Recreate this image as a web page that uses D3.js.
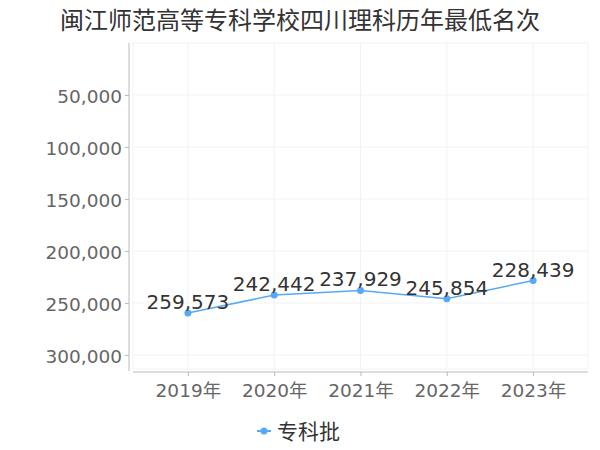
<!DOCTYPE html>
<html>
<head>
<meta charset="utf-8">
<script src="https://cdn.jsdelivr.net/npm/d3@7"></script>
<style>
  body { margin: 0; background: #fff; }
  text { font-family: "DejaVu Sans", "Noto Sans CJK SC", sans-serif; }
</style>
</head>
<body>
<svg width="600" height="450"></svg>
<script>
const title = "闽江师范高等专科学校四川理科历年最低名次";
const years = ["2019年", "2020年", "2021年", "2022年", "2023年"];
const ranks = [259573, 242442, 237929, 245854, 228439];
const seriesName = "专科批";
const yTicks = [50000, 100000, 150000, 200000, 250000, 300000];

const color = "#58a9f5";
const svg = d3.select("svg");

const plotLeft = 133, plotRight = 588, plotTop = 43, plotBottom = 369;

const x = d3.scalePoint()
  .domain(years)
  .range([plotLeft, plotRight])
  .padding(0.636);

const y = d3.scaleLinear()
  .domain([0, 313500])
  .range([plotTop, plotBottom]);

// title
svg.append("text")
  .attr("x", 300)
  .attr("y", 29)
  .attr("text-anchor", "middle")
  .attr("font-size", 24)
  .attr("fill", "#333")
  .style("font-family", "'Noto Sans CJK SC', sans-serif")
  .text(title);

// grid
const grid = svg.append("g");
grid.append("rect")
  .attr("x", plotLeft).attr("y", plotTop)
  .attr("width", plotRight - plotLeft).attr("height", plotBottom - plotTop)
  .attr("fill", "none").attr("stroke", "#f2f2f2");
grid.selectAll(".hg")
  .data(yTicks)
  .enter().append("line")
  .attr("x1", plotLeft).attr("x2", plotRight)
  .attr("y1", d => y(d)).attr("y2", d => y(d))
  .attr("stroke", "#f2f2f2");
grid.selectAll(".vg")
  .data(years)
  .enter().append("line")
  .attr("x1", d => x(d)).attr("x2", d => x(d))
  .attr("y1", plotTop).attr("y2", plotBottom)
  .attr("stroke", "#f2f2f2");

// y axis
const yAxis = svg.append("g")
  .attr("transform", "translate(129,0)")
  .call(d3.axisLeft(y).tickValues(yTicks).tickFormat(d3.format(",")).tickSize(4).tickSizeOuter(0));
yAxis.select(".domain").attr("stroke", "#bbb").attr("d", `M0,${plotTop}V${plotBottom + 2}`);
yAxis.selectAll(".tick line").attr("stroke", "#bbb");
yAxis.selectAll(".tick text")
  .attr("font-size", 18.5)
  .attr("fill", "#666")
  .attr("x", -7)
  .attr("dy", "0.4em");

// x axis
const xAxis = svg.append("g")
  .attr("transform", "translate(0,372)")
  .call(d3.axisBottom(x).tickSize(4).tickSizeOuter(0));
xAxis.select(".domain").attr("stroke", "#bbb").attr("d", `M${plotLeft},0H${plotRight}`);
xAxis.selectAll(".tick line").attr("stroke", "#bbb");
xAxis.selectAll(".tick text")
  .attr("font-size", 18.5)
  .attr("fill", "#666")
  .attr("y", 12)
  .attr("dy", "0.71em");

// line
const data = years.map((d, i) => ({ year: d, value: ranks[i] }));
svg.append("path")
  .datum(data)
  .attr("fill", "none")
  .attr("stroke", color)
  .attr("stroke-width", 1.5)
  .attr("d", d3.line().x(d => x(d.year)).y(d => y(d.value)));

svg.selectAll(".pt")
  .data(data)
  .enter().append("circle")
  .attr("cx", d => x(d.year))
  .attr("cy", d => y(d.value))
  .attr("r", 3.5)
  .attr("fill", color);

svg.selectAll(".lbl")
  .data(data)
  .enter().append("text")
  .attr("x", d => x(d.year))
  .attr("y", d => y(d.value) - 4)
  .attr("text-anchor", "middle")
  .attr("font-size", 20)
  .attr("fill", "#333")
  .text(d => d3.format(",")(d.value));

// legend
const legend = svg.append("g").attr("transform", "translate(264,431)");
legend.append("line")
  .attr("x1", -7).attr("x2", 7)
  .attr("stroke", color).attr("stroke-width", 2);
legend.append("circle").attr("r", 3.5).attr("fill", color);
legend.append("text")
  .attr("x", 13)
  .attr("dy", "0.36em")
  .attr("font-size", 21)
  .attr("fill", "#333")
  .style("font-family", "'Noto Sans CJK SC', sans-serif")
  .text(seriesName);
</script>
</body>
</html>
